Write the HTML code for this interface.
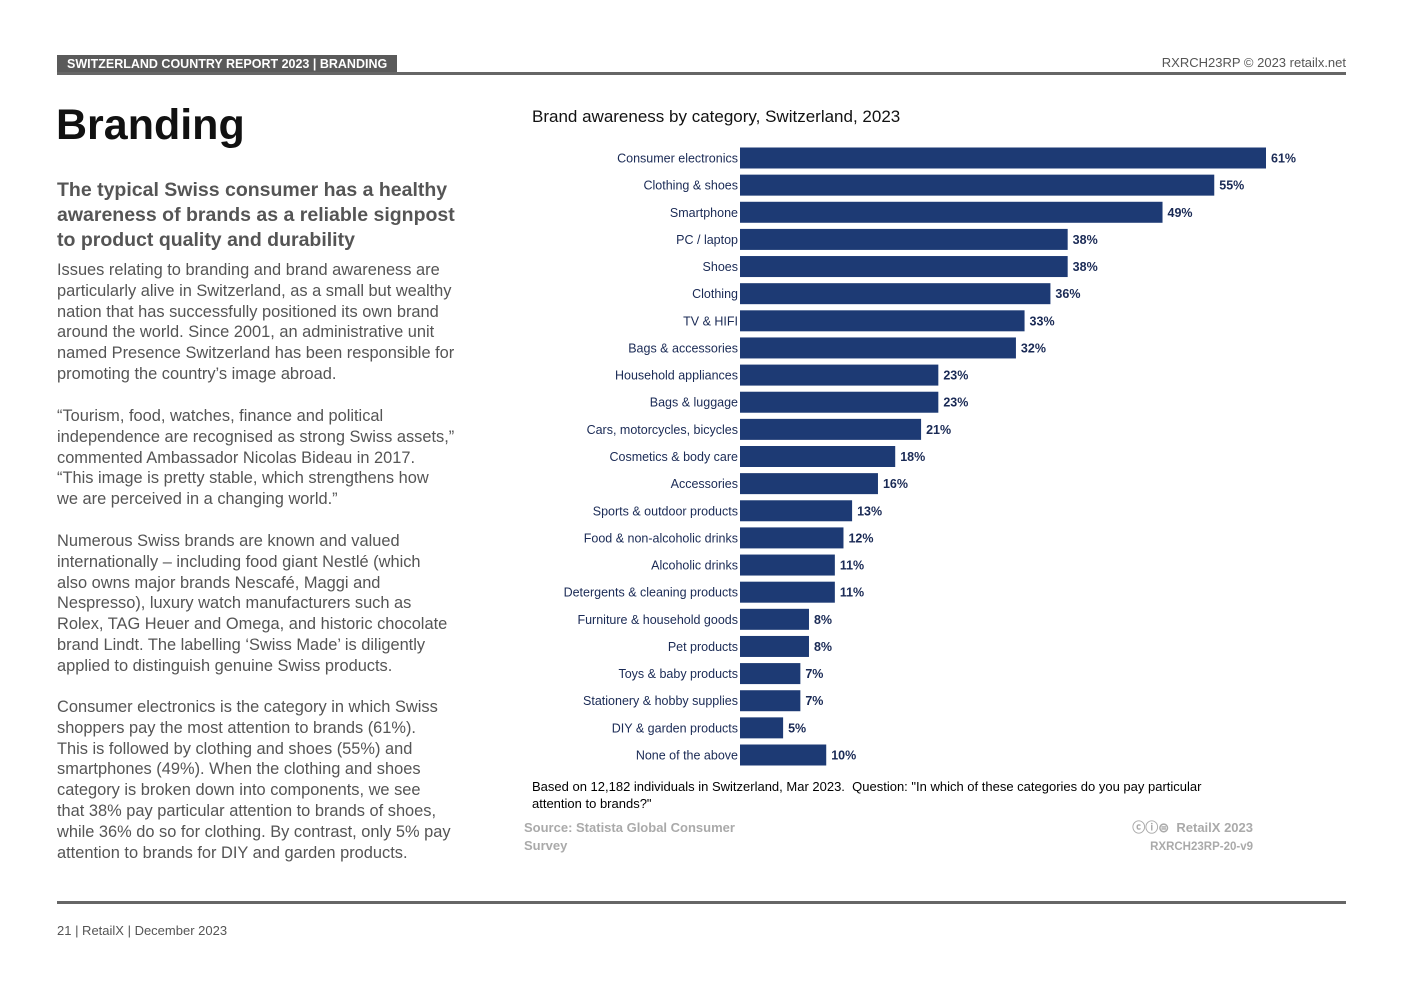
<!DOCTYPE html>
<html><head><meta charset="utf-8"><style>
body{margin:0;width:1403px;height:992px;background:#fff;position:relative;font-family:"Liberation Sans",sans-serif;overflow:hidden}
.abs{position:absolute}
.hdr{left:57px;top:55px;height:18px;background:#5a5a5a;color:#fff;font-weight:bold;font-size:12.5px;line-height:19px;padding:0 10px;}
.rule{left:57px;width:1289px;height:3px;background:#666}
.body{left:57px;font-size:16.4px;line-height:20.8px;color:#555;white-space:nowrap}
</style></head><body>
<div class="abs hdr">SWITZERLAND COUNTRY REPORT 2023 | BRANDING</div>
<div class="abs" style="right:57px;top:55px;font-size:13px;color:#555">RXRCH23RP © 2023 retailx.net</div>
<div class="abs rule" style="top:72px"></div>
<div class="abs" style="left:56px;top:101px;font-size:43px;font-weight:bold;color:#111">Branding</div>
<div class="abs" style="left:57px;top:178px;font-size:19.5px;line-height:25px;font-weight:bold;color:#555;white-space:nowrap">The typical Swiss consumer has a healthy<br>awareness of brands as a reliable signpost<br>to product quality and durability</div>
<div class="abs body" style="top:260px">Issues relating to branding and brand awareness are<br>particularly alive in Switzerland, as a small but wealthy<br>nation that has successfully positioned its own brand<br>around the world. Since 2001, an administrative unit<br>named Presence Switzerland has been responsible for<br>promoting the country’s image abroad.</div>
<div class="abs body" style="top:406px">“Tourism, food, watches, finance and political<br>independence are recognised as strong Swiss assets,”<br>commented Ambassador Nicolas Bideau in 2017.<br>“This image is pretty stable, which strengthens how<br>we are perceived in a changing world.”</div>
<div class="abs body" style="top:531px">Numerous Swiss brands are known and valued<br>internationally – including food giant Nestlé (which<br>also owns major brands Nescafé, Maggi and<br>Nespresso), luxury watch manufacturers such as<br>Rolex, TAG Heuer and Omega, and historic chocolate<br>brand Lindt. The labelling ‘Swiss Made’ is diligently<br>applied to distinguish genuine Swiss products.</div>
<div class="abs body" style="top:697px">Consumer electronics is the category in which Swiss<br>shoppers pay the most attention to brands (61%).<br>This is followed by clothing and shoes (55%) and<br>smartphones (49%). When the clothing and shoes<br>category is broken down into components, we see<br>that 38% pay particular attention to brands of shoes,<br>while 36% do so for clothing. By contrast, only 5% pay<br>attention to brands for DIY and garden products.</div>
<div class="abs" style="left:532px;top:107px;font-size:17px;color:#111">Brand awareness by category, Switzerland, 2023</div>
<svg class="abs" style="left:0;top:0" width="1403" height="992" id="chart"></svg>
<div class="abs" style="left:532px;top:778px;font-size:13px;line-height:17px;color:#000;white-space:nowrap">Based on 12,182 individuals in Switzerland, Mar 2023. &nbsp;Question: "In which of these categories do you pay particular<br>attention to brands?"</div>
<div class="abs" style="left:524px;top:819px;font-size:13px;line-height:18px;color:#aaa;font-weight:bold">Source: Statista Global Consumer<br>Survey</div>
<div class="abs" style="right:150px;top:819px;font-size:13px;line-height:18px;color:#aaa;font-weight:bold;text-align:right">ⓒⓘ⊜ &nbsp;RetailX 2023<br><span style="font-size:11.5px">RXRCH23RP-20-v9</span></div>
<div class="abs rule" style="top:901px"></div>
<div class="abs" style="left:57px;top:923px;font-size:13px;color:#555">21 | RetailX | December 2023</div>
<script>
const categories=["Consumer electronics","Clothing & shoes","Smartphone","PC / laptop","Shoes","Clothing","TV & HIFI","Bags & accessories","Household appliances","Bags & luggage","Cars, motorcycles, bicycles","Cosmetics & body care","Accessories","Sports & outdoor products","Food & non-alcoholic drinks","Alcoholic drinks","Detergents & cleaning products","Furniture & household goods","Pet products","Toys & baby products","Stationery & hobby supplies","DIY & garden products","None of the above"];
const values=[61,55,49,38,38,36,33,32,23,23,21,18,16,13,12,11,11,8,8,7,7,5,10];
const labels=values.map(v=>v+"%");
const svg=document.getElementById('chart');const NS="http://www.w3.org/2000/svg";
const x0=740,pxPer=526/61,y0=158,pitch=(755-158)/22,bh=21;
const xs=v=>v*pxPer, ys=i=>y0+i*pitch;
categories.forEach((c,i)=>{
 const r=document.createElementNS(NS,'rect');
 r.setAttribute('x',x0);r.setAttribute('y',ys(i)-bh/2);r.setAttribute('width',xs(values[i]));r.setAttribute('height',bh);r.setAttribute('fill','#1d3a74');
 
 
 svg.appendChild(r);
 const t=document.createElementNS(NS,'text');
 t.setAttribute('x',x0-2);t.setAttribute('y',ys(i)+4.5);t.setAttribute('text-anchor','end');t.setAttribute('font-size','12.5');t.setAttribute('fill','#1a2a55');t.textContent=c;
 
 
 svg.appendChild(t);
 const v=document.createElementNS(NS,'text');
 v.setAttribute('x',x0+xs(values[i])+5);v.setAttribute('y',ys(i)+4.5);v.setAttribute('font-size','12.5');v.setAttribute('font-weight','bold');v.setAttribute('fill','#1a2a55');v.textContent=labels[i];
 
 
 svg.appendChild(v);
});
</script>
</body></html>
